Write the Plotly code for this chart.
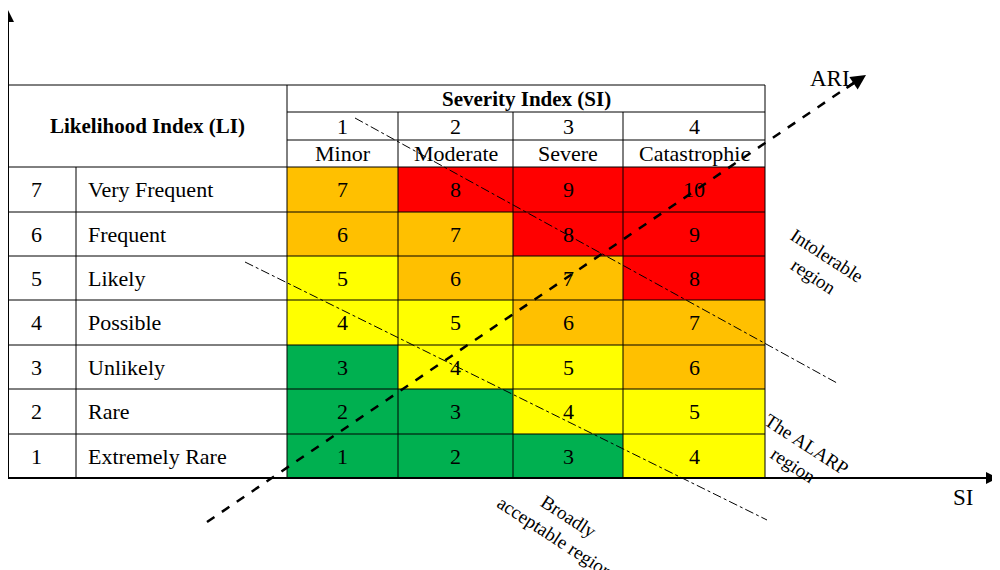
import plotly.graph_objects as go

# risk matrix data
li_index = [7, 6, 5, 4, 3, 2, 1]
li_labels = ['Very Frequent', 'Frequent', 'Likely', 'Possible', 'Unlikely', 'Rare', 'Extremely Rare']
si_index = [1, 2, 3, 4]
si_labels = ['Minor', 'Moderate', 'Severe', 'Catastrophic']
ari = [[7, 8, 9, 10],
       [6, 7, 8, 9],
       [5, 6, 7, 8],
       [4, 5, 6, 7],
       [3, 4, 5, 6],
       [2, 3, 4, 5],
       [1, 2, 3, 4]]

def cell_color(v):
    if v >= 8:
        return '#FF0000'
    if v >= 6:
        return '#FFC000'
    if v >= 4:
        return '#FFFF00'
    return '#00B050'

# pixel geometry of the table
col_edges = [287, 398, 513, 623, 765]
row_edges = [167, 212, 256, 300, 345, 389, 434, 478]
left, num_right, top = 8, 76, 85
FONT = 'Liberation Serif'
FS = 22

shapes = []
ann = []

def line(x0, y0, x1, y1, w=1, dash='solid', color='black'):
    shapes.append(dict(type='line', x0=x0, y0=y0, x1=x1, y1=y1,
                       line=dict(color=color, width=w, dash=dash), layer='above'))

def text(x, y, s, size=FS, angle=0, bold=False):
    if bold:
        s = '<b>' + s + '</b>'
    ann.append(dict(x=x, y=y, text=s, showarrow=False, textangle=angle,
                    font=dict(family=FONT, size=size, color='black')))

# coloured cells
for i, row in enumerate(ari):
    for j, v in enumerate(row):
        shapes.append(dict(type='rect', x0=col_edges[j], x1=col_edges[j + 1],
                           y0=row_edges[i], y1=row_edges[i + 1],
                           fillcolor=cell_color(v), line=dict(width=0), layer='below'))
        text((col_edges[j] + col_edges[j + 1]) / 2, (row_edges[i] + row_edges[i + 1]) / 2, str(v))
    yc = (row_edges[i] + row_edges[i + 1]) / 2
    text((left + num_right) / 2 - 6, yc, str(li_index[i]))
    ann.append(dict(x=num_right + 10, y=yc, text=li_labels[i], showarrow=False, xanchor='left',
                    font=dict(family=FONT, size=FS, color='black')))

# grid lines
for y in row_edges:
    line(left, y, col_edges[-1], y)
line(left, top, col_edges[-1], top)
line(col_edges[0], 112, col_edges[-1], 112)
line(col_edges[0], 140, col_edges[-1], 140)
line(left, top, left, row_edges[-1])
line(num_right, row_edges[0], num_right, row_edges[-1])
line(col_edges[0], top, col_edges[0], row_edges[-1])
line(col_edges[-1], top, col_edges[-1], row_edges[-1])
for x in col_edges[1:-1]:
    line(x, 112, x, row_edges[-1])

# header text
text((left + col_edges[0]) / 2, 126, 'Likelihood Index (LI)', size=21, bold=True)
text((col_edges[0] + col_edges[-1]) / 2, 99, 'Severity Index (SI)', size=21, bold=True)
for j in range(4):
    xc = (col_edges[j] + col_edges[j + 1]) / 2
    text(xc, 126, str(si_index[j]))
    text(xc, 153, si_labels[j])

# axes arrows
line(8, 478, 8, 25, w=2)
line(8, 478, 978, 478, w=2)
ann.append(dict(x=8, y=10, ax=8, ay=40, xref='x', yref='y', axref='x', ayref='y', text='',
                showarrow=True, arrowhead=2, arrowsize=1.2, arrowwidth=2, arrowcolor='black'))
ann.append(dict(x=998, y=478, ax=960, ay=478, xref='x', yref='y', axref='x', ayref='y', text='',
                showarrow=True, arrowhead=2, arrowsize=1.2, arrowwidth=2, arrowcolor='black'))
text(963, 497, 'SI', size=23)

# ARI dashed arrow
line(207, 522, 855, 82, w=2.5, dash='dash')
ann.append(dict(x=866, y=75, ax=845, ay=89, xref='x', yref='y', axref='x', ayref='y', text='',
                showarrow=True, arrowhead=2, arrowsize=1.2, arrowwidth=2.5, arrowcolor='black'))
text(830, 78, 'ARI', size=23)

# region boundaries
line(355, 118, 837, 383, w=1, dash='dashdot')
line(245, 262, 767, 520, w=1, dash='dashdot')

text(820, 266, 'Intolerable<br>region', size=19, angle=33)
text(800, 455, 'The ALARP<br>region', size=19, angle=33)
text(562, 527, 'Broadly<br>acceptable region', size=19, angle=33)

fig = go.Figure()
# page shows an ~8px offset, so shift the pixel ranges to compensate
fig.update_layout(width=1000, height=570, margin=dict(l=0, r=0, t=0, b=0),
                  plot_bgcolor='white', paper_bgcolor='white', showlegend=False,
                  shapes=shapes, annotations=ann,
                  xaxis=dict(range=[8, 1008], visible=False, fixedrange=True),
                  yaxis=dict(range=[578, 8], visible=False, fixedrange=True))
fig.write_html("out.html")
